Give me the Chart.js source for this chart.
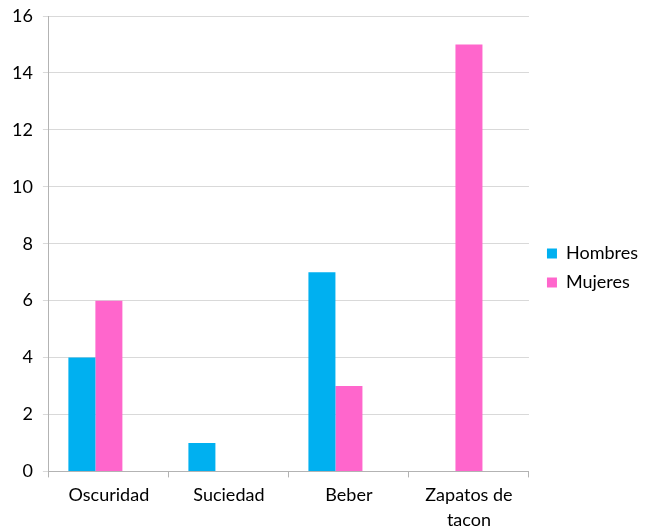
<!DOCTYPE html>
<html>
<head>
<meta charset="utf-8">
<script src="https://cdn.jsdelivr.net/npm/chart.js@4/dist/chart.umd.min.js"></script>
<style>
  html, body { margin: 0; padding: 0; background: #fff; }
  #wrap { width: 647px; height: 529px; }
</style>
</head>
<body>
<div id="wrap"><canvas id="causesChart" width="647" height="529"></canvas></div>
<script>
const categories = ['Oscuridad', 'Suciedad', 'Beber', ['Zapatos de', 'tacon']];
const hombres = [4, 1, 7, 0];
const mujeres = [6, 0, 3, 15];
// third (empty) series keeps the Excel-style offset of the bar pairs
const vacio = [null, null, null, null];

const fontFamily = 'Lato, "Open Sans", sans-serif';

// nudge the legend block a bit up and to the right, like the original
const legendNudge = {
    id: 'legendNudge',
    afterLayout(chart) {
        const lg = chart.legend;
        if (!lg) return;
        lg.top -= 9; lg.bottom -= 9;
        lg.left += 7; lg.right += 7;
    }
};

document.addEventListener('DOMContentLoaded', function () {
    const ctx = document.getElementById('causesChart').getContext('2d');
    new Chart(ctx, {
        type: 'bar',
        data: {
            labels: categories,
            datasets: [
                { label: 'Hombres', data: hombres, backgroundColor: '#00B0F0' },
                { label: 'Mujeres', data: mujeres, backgroundColor: '#FF66CC' },
                { label: '', data: vacio, backgroundColor: 'rgba(0,0,0,0)' }
            ]
        },
        options: {
            responsive: false,
            animation: false,
            categoryPercentage: 0.675,
            barPercentage: 1,
            layout: { padding: { top: 16, left: 2, right: 6, bottom: -9 } },
            plugins: {
                legend: {
                    position: 'right',
                    labels: {
                        boxWidth: 10,
                        boxHeight: 10,
                        padding: 11,
                        color: '#000',
                        font: { family: fontFamily, size: 18 },
                        filter: function (item) { return item.text !== ''; }
                    }
                },
                tooltip: { enabled: false }
            },
            scales: {
                x: {
                    grid: {
                        offset: true,
                        drawOnChartArea: false,
                        tickLength: 6,
                        color: '#b3b3b3'
                    },
                    border: { color: '#b3b3b3' },
                    ticks: {
                        color: '#000',
                        padding: 6,
                        maxRotation: 0,
                        font: { family: fontFamily, size: 18, lineHeight: 1.35 }
                    }
                },
                y: {
                    min: 0,
                    max: 16,
                    afterFit(scale) { scale.paddingTop = 0; },
                    grid: { color: '#d9d9d9', tickLength: 6 },
                    border: { color: '#b3b3b3' },
                    ticks: {
                        stepSize: 2,
                        color: '#000',
                        padding: 10,
                        font: { family: fontFamily, size: 18 }
                    }
                }
            }
        },
        plugins: [legendNudge]
    });
});
</script>
</body>
</html>
